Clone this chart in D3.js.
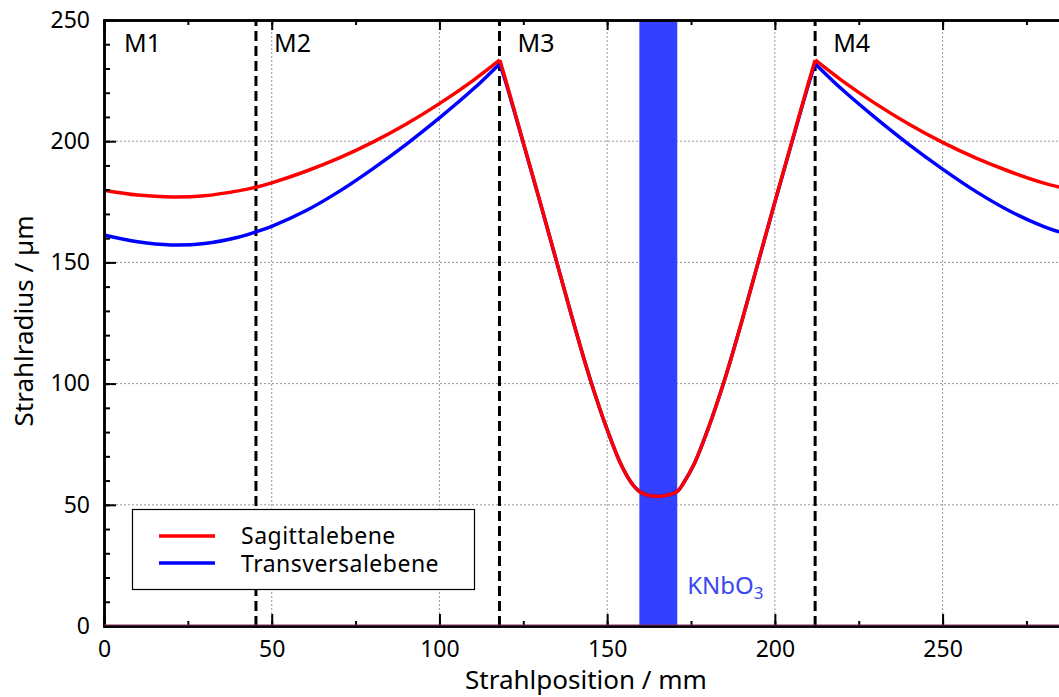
<!DOCTYPE html>
<html>
<head>
<meta charset="utf-8">
<script src="https://cdn.jsdelivr.net/npm/d3@7/dist/d3.min.js"></script>
<style>
    body { margin: 0; background: #fff; }
    svg text { font-family: "Noto Sans", "Open Sans", sans-serif; fill: #000; }
</style>
</head>
<body>
<div id="chart"></div>
<script>
// beam position (mm) and beam radius (µm), one array per resonator arm
const posArm1 = [0, 10, 20, 30, 40, 45.3, 50, 60, 70, 80, 90, 100, 110, 118];
const sagArm1 = [179.8, 177.8, 177, 177.5, 179.5, 181, 182.8, 187.5, 193, 199.5, 207, 215.5, 225, 233.5];
const transArm1 = [161.3, 158.5, 157.2, 157.8, 160.4, 162.6, 164.9, 171.2, 179.2, 188.5, 198.6, 209.6, 221.4, 232];

const posArm2 = [118, 120, 125, 130, 135, 140, 145, 150, 154, 157, 159.6, 162, 165, 168, 170.9, 173, 176, 180, 185, 190, 195, 200, 205, 210, 212];
const sagArm2 = [233.5, 224, 199.5, 175, 150, 125, 101.5, 81, 67, 59.5, 55.5, 54, 53.5, 54, 55.5, 59.5, 67, 81, 101.5, 125, 150, 175, 199.5, 224, 233.5];
const transArm2 = [232, 223.3, 199.2, 174.8, 149.9, 125, 101.5, 81, 67, 59.5, 55.5, 54, 53.5, 54, 55.5, 59.5, 67, 81, 101.5, 125, 149.9, 174.8, 199.2, 223.3, 232];

const posArm3 = [212, 220, 230, 240, 250, 260, 270, 280, 285];
const sagArm3 = [233.5, 225, 215.5, 207, 199.5, 193, 187.5, 182.8, 181];
const transArm3 = [232, 221.4, 209.6, 198.6, 188.5, 179.2, 171.2, 164.9, 162.5];

const mirrorLines = [45.3, 117.9, 212];
const mirrorLabels = ["M1", "M2", "M3", "M4"];
const mirrorLabelPos = [0, 45.3, 117.9, 212];
const crystalRange = [159.6, 170.9];
const xTicks = [0, 50, 100, 150, 200, 250];
const yTicks = [0, 50, 100, 150, 200, 250];
const seriesNames = ["Sagittalebene", "Transversalebene"];
const seriesColors = ["#ff0000", "#0000ff"];

const chart = {
    width: 1059,
    height: 697,
    margin: {left: 104, top: 20, right: 0, bottom: 71},
    svg: {},
    x: {},
    y: {},
    plot: function() {
        const _self = chart;
        const m = _self.margin;

        _self.x = d3.scaleLinear().domain([0, 285]).range([m.left, 1060]);
        _self.y = d3.scaleLinear().domain([0, 250]).range([_self.height - m.bottom, m.top]);
        const x = _self.x, y = _self.y;

        _self.svg = d3.select("#chart")
            .append("svg")
            .attr("width", _self.width)
            .attr("height", _self.height);
        const svg = _self.svg;

        // grid
        svg.append("g").selectAll("line")
            .data(xTicks.slice(1))
            .enter().append("line")
            .attr("x1", d => x(d)).attr("x2", d => x(d))
            .attr("y1", y(0)).attr("y2", y(250))
            .attr("stroke", "#999").attr("stroke-width", 1)
            .attr("stroke-dasharray", "2,2");
        svg.append("g").selectAll("line")
            .data(yTicks.slice(1, -1))
            .enter().append("line")
            .attr("x1", x(0)).attr("x2", _self.width)
            .attr("y1", d => y(d)).attr("y2", d => y(d))
            .attr("stroke", "#999").attr("stroke-width", 1)
            .attr("stroke-dasharray", "2,2");

        // crystal
        svg.append("rect")
            .attr("x", x(crystalRange[0]))
            .attr("y", y(250))
            .attr("width", x(crystalRange[1]) - x(crystalRange[0]))
            .attr("height", y(0) - y(250))
            .attr("fill", "#3340ff");

        const crystalText = svg.append("text")
            .attr("x", x(crystalRange[1]) + 10)
            .attr("y", y(0) - 32)
            .style("font-size", "24px")
            .style("fill", "#3a48f2");
        crystalText.append("tspan").text("KNbO");
        crystalText.append("tspan").text("3")
            .attr("dy", 5).style("font-size", "17px");

        // mirror positions
        svg.append("g").selectAll("line")
            .data(mirrorLines)
            .enter().append("line")
            .attr("x1", d => x(d)).attr("x2", d => x(d))
            .attr("y1", y(0)).attr("y2", y(250))
            .attr("stroke", "#000").attr("stroke-width", 3)
            .attr("stroke-dasharray", "10,5");

        svg.append("g").selectAll("text")
            .data(mirrorLabels)
            .enter().append("text")
            .text(d => d)
            .attr("x", (d, i) => x(mirrorLabelPos[i]) + (i === 0 ? 20 : 18))
            .attr("y", 52)
            .style("font-size", "25px");

        // beam radius curves
        const line = d3.line()
            .x(d => x(d[0]))
            .y(d => y(d[1]))
            .curve(d3.curveCatmullRom);
        const zip = (a, b) => a.map((v, i) => [v, b[i]]);

        const arms = [
            [posArm1, sagArm1, transArm1],
            [posArm2, sagArm2, transArm2],
            [posArm3, sagArm3, transArm3]
        ];

        // transversal first, sagittal on top
        [2, 1].forEach(k => {
            svg.append("g").selectAll("path")
                .data(arms)
                .enter().append("path")
                .attr("d", d => line(zip(d[0], d[k])))
                .attr("fill", "none")
                .attr("stroke", seriesColors[k - 1])
                .attr("stroke-width", 3.5)
                .attr("stroke-linejoin", "miter");
        });

        // axes
        const axisStyle = g => {
            g.select(".domain").attr("stroke", "#000").attr("stroke-width", 2.5);
            g.selectAll(".tick line").attr("stroke", "#000").attr("stroke-width", 2);
        };

        svg.append("g")
            .attr("transform", `translate(${x(0)},0)`)
            .call(d3.axisLeft(y).tickValues(d3.range(0, 251, 10)).tickSize(-6).tickFormat(""))
            .call(axisStyle);
        svg.append("g")
            .attr("transform", `translate(${x(0)},0)`)
            .call(d3.axisLeft(y).tickValues(yTicks).tickSize(-12).tickSizeOuter(0).tickPadding(14))
            .call(axisStyle)
            .call(g => g.selectAll("text").style("font-size", "23px"));

        svg.append("g")
            .attr("transform", `translate(0,${y(0)})`)
            .call(d3.axisBottom(x).tickValues(d3.range(0, 286, 25)).tickSize(-5).tickFormat(""))
            .call(axisStyle);
        svg.append("g")
            .attr("transform", `translate(0,${y(0)})`)
            .call(d3.axisBottom(x).tickValues(xTicks).tickSize(-12).tickSizeOuter(0).tickPadding(15))
            .call(axisStyle)
            .call(g => g.selectAll("text").style("font-size", "23px"));

        svg.append("g")
            .attr("transform", `translate(0,${y(250)})`)
            .call(d3.axisTop(x).tickValues(d3.range(0, 286, 25)).tickSize(-5).tickFormat(""))
            .call(axisStyle);
        svg.append("g")
            .attr("transform", `translate(0,${y(250)})`)
            .call(d3.axisTop(x).tickValues(xTicks).tickSize(-10).tickSizeOuter(0).tickFormat(""))
            .call(axisStyle);

        // zero trace along the bottom axis
        svg.append("line")
            .attr("x1", x(0)).attr("x2", _self.width)
            .attr("y1", y(0) - 1).attr("y2", y(0) - 1)
            .attr("stroke", "#8a2a5c").attr("stroke-width", 1.2);

        // axis titles
        svg.append("text")
            .text("Strahlposition / mm")
            .attr("x", 586)
            .attr("y", 689)
            .attr("text-anchor", "middle")
            .style("font-size", "26px");

        svg.append("text")
            .text("Strahlradius / µm")
            .attr("transform", "translate(33,321) rotate(-90)")
            .attr("text-anchor", "middle")
            .style("font-size", "26px");

        // legend
        const legend = svg.append("g").attr("class", "legend");
        legend.append("rect")
            .attr("x", 132.5).attr("y", 509.5)
            .attr("width", 342).attr("height", 80)
            .attr("fill", "#fff").attr("stroke", "#000").attr("stroke-width", 1.2);

        legend.selectAll("line")
            .data(seriesNames)
            .enter().append("line")
            .attr("x1", 159).attr("x2", 215)
            .attr("y1", (d, i) => 536 + i * 27)
            .attr("y2", (d, i) => 536 + i * 27)
            .attr("stroke", (d, i) => seriesColors[i])
            .attr("stroke-width", 3.5);

        legend.selectAll("text")
            .data(seriesNames)
            .enter().append("text")
            .text(d => d)
            .attr("x", 241)
            .attr("y", (d, i) => 544 + i * 27.5)
            .style("font-size", "23px")
            .style("letter-spacing", "0.5px");
    }
};

chart.plot();
</script>
</body>
</html>
